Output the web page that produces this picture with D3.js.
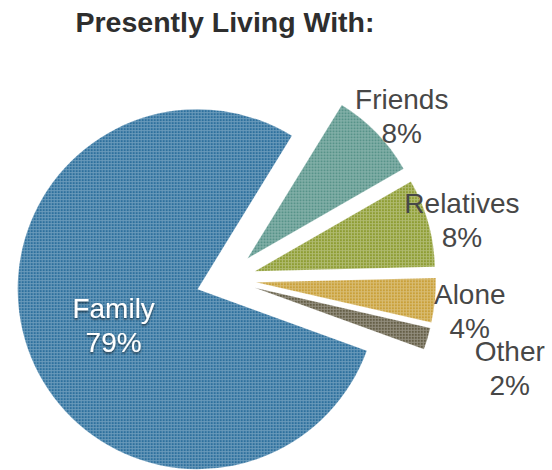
<!DOCTYPE html>
<html>
<head>
<meta charset="utf-8">
<script src="https://cdn.jsdelivr.net/npm/d3@7"></script>
<style>
  html, body { margin: 0; padding: 0; background: #fff; }
  svg { display: block; }
  text { font-family: "Liberation Sans", Arial, Helvetica, sans-serif; }
</style>
</head>
<body>
<div id="chart"></div>
<script>
// ---- data ----
const title = "Presently Living With:";
const categories = ["Family", "Friends", "Relatives", "Alone", "Other"];
const values = [79, 8, 8, 4, 2];
const valueLabels = ["79%", "8%", "8%", "4%", "2%"];

// ---- styles ----
const sliceColors = ["#2d709d", "#579389", "#8e9d33", "#c9a039", "#655f47"];

const W = 552, H = 470;
const cx = 226, cy = 279.3;
const radius = 180;
const explode = 30;
const startDeg = 110;
const insideLabelR = 89, outsideLabelR = 215;
const lineGap = 34;

const svg = d3.select("#chart").append("svg")
  .attr("width", W).attr("height", H);

const defs = svg.append("defs");
sliceColors.forEach((c, i) => {
  const p = defs.append("pattern")
    .attr("id", "tex" + i)
    .attr("patternUnits", "userSpaceOnUse")
    .attr("width", 3).attr("height", 3);
  p.append("rect").attr("width", 3).attr("height", 3).attr("fill", c);
  p.append("rect").attr("x", 0).attr("y", 0).attr("width", 3).attr("height", 1)
    .attr("fill", "#fff").attr("fill-opacity", 0.3);
  p.append("rect").attr("x", 0).attr("y", 1).attr("width", 1).attr("height", 2)
    .attr("fill", "#fff").attr("fill-opacity", 0.3);
});
const shadow = defs.append("filter").attr("id", "shadow")
  .attr("x", "-20%").attr("y", "-20%").attr("width", "140%").attr("height", "160%");
shadow.append("feDropShadow").attr("dx", 0).attr("dy", 1.5)
  .attr("stdDeviation", 1).attr("flood-color", "#000").attr("flood-opacity", 0.65);

// title
svg.append("text")
  .attr("x", 225).attr("y", 32)
  .attr("text-anchor", "middle")
  .attr("font-size", 28.5).attr("font-weight", "bold")
  .attr("fill", "#2e2e2e")
  .text(title);

const rad = Math.PI / 180;
const pie = d3.pie().sort(null).value(d => d)
  .startAngle(startDeg * rad).endAngle(startDeg * rad + 2 * Math.PI);
const arcs = pie(values);
const arc = d3.arc().innerRadius(0).outerRadius(radius);

const polar = (a, r) => [Math.sin(a) * r, -Math.cos(a) * r];
const mid = d => (d.startAngle + d.endAngle) / 2;

const g = svg.append("g").attr("transform", `translate(${cx},${cy})`);

g.selectAll("path.slice").data(arcs).join("path")
  .attr("class", "slice")
  .attr("d", arc)
  .attr("transform", d => {
    const [dx, dy] = polar(mid(d), explode);
    return `translate(${dx},${dy})`;
  })
  .attr("fill", (d, i) => `url(#tex${i})`)
  .attr("stroke", "#ffffff").attr("stroke-opacity", 0.35).attr("stroke-width", 0.6);

// labels
const labelG = g.selectAll("g.lbl").data(arcs).join("g").attr("class", "lbl");
labelG.each(function (d, i) {
  const inside = d.endAngle - d.startAngle > Math.PI;
  const [x, y] = polar(mid(d), explode + (inside ? insideLabelR : outsideLabelR));
  const sel = d3.select(this).attr("transform", `translate(${x},${y})`);
  d.lx = x; d.ly = y;
  const t = sel.append("text")
    .attr("text-anchor", "middle")
    .attr("font-size", 28)
    .attr("fill", inside ? "#ffffff" : "#474747")
    .attr("filter", inside ? "url(#shadow)" : null);
  t.append("tspan").attr("x", 0).attr("y", 0).text(categories[i]);
  t.append("tspan").attr("x", 0).attr("y", lineGap).text(valueLabels[i]);
});

// simple collision handling for outside labels
const nodes = labelG.nodes();
let prev = null;
arcs.forEach((d, i) => {
  if (d.endAngle - d.startAngle > Math.PI) return;
  const node = nodes[i];
  let bb = node.getBBox();
  let box = { x0: d.lx + bb.x, x1: d.lx + bb.x + bb.width, y0: d.ly + bb.y, y1: d.ly + bb.y + bb.height };
  if (prev) {
    const hov = Math.min(box.x1, prev.x1) - Math.max(box.x0, prev.x0);
    const vov = Math.min(box.y1, prev.y1) - Math.max(box.y0, prev.y0);
    if (hov > 0 && vov > 0) {
      const pc = (prev.x0 + prev.x1) / 2;
      const shiftX = Math.max(0, pc + 5 - box.x0);
      const shiftY = Math.max(0, vov - 8);
      d.lx += shiftX; d.ly += shiftY;
      box = { x0: box.x0 + shiftX, x1: box.x1 + shiftX, y0: box.y0 + shiftY, y1: box.y1 + shiftY };
      d3.select(node).attr("transform", `translate(${d.lx},${d.ly})`);
    }
  }
  prev = box;
});
</script>
</body>
</html>
